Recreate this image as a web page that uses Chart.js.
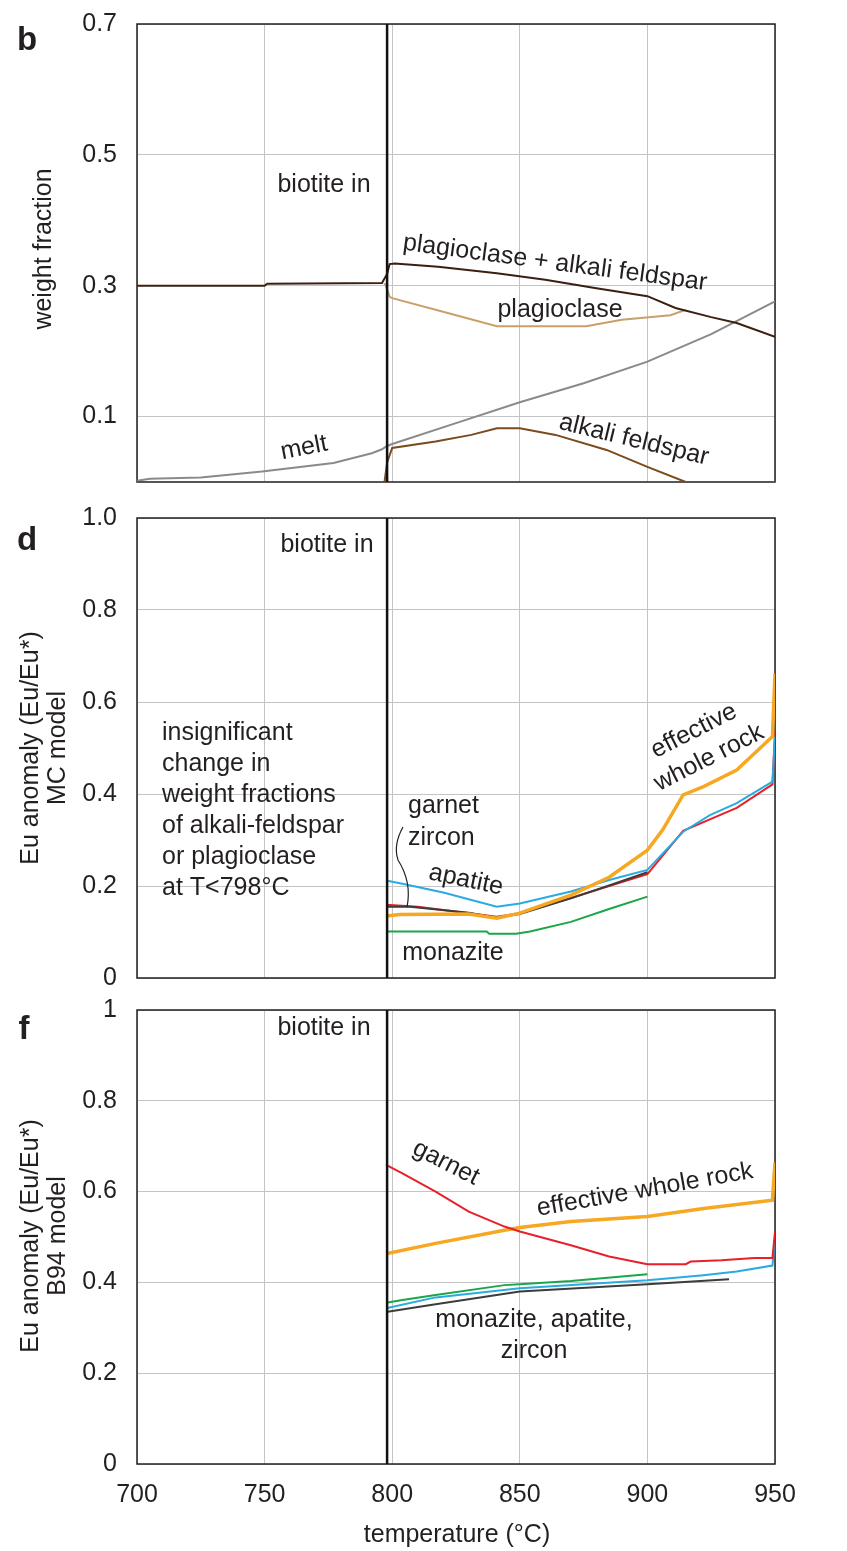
<!DOCTYPE html>
<html>
<head>
<meta charset="utf-8">
<script src="https://cdn.jsdelivr.net/npm/chart.js@4.4.1/dist/chart.umd.min.js"></script>
<style>
    body { margin: 0; background: #fff; }
    #wrap { position: relative; width: 847px; height: 1551px; }
    canvas { position: absolute; left: 0; }
</style>
</head>
<body>
<div id="wrap">
    <canvas id="chartB" width="847" height="500" style="top:0px"></canvas>
    <canvas id="chartD" width="847" height="490" style="top:500px"></canvas>
    <canvas id="chartF" width="847" height="561" style="top:990px"></canvas>
</div>
<script>
// temperature axis
const xTicks = [700, 750, 800, 850, 900, 950];
const biotiteIn = 798;

// panel b - weight fractions
const bTicks = [0.1, 0.3, 0.5, 0.7];
const bMeltT = [700, 705, 725, 749, 777, 792, 796, 798, 800, 825, 850, 875, 900, 925, 950];
const bMelt = [0.002, 0.005, 0.007, 0.016, 0.029, 0.044, 0.050, 0.055, 0.058, 0.090, 0.122, 0.151, 0.184, 0.226, 0.276];
const bPlagAlkT = [700, 750, 751, 796, 798, 799, 801, 818, 841, 860, 880, 900, 911, 925, 935, 950];
const bPlagAlk = [0.300, 0.300, 0.303, 0.304, 0.318, 0.333, 0.334, 0.329, 0.319, 0.309, 0.296, 0.284, 0.266, 0.252, 0.243, 0.222];
const bPlagT = [797, 798, 799, 800, 821, 841, 876, 890, 909, 915];
const bPlag = [0.304, 0.295, 0.283, 0.281, 0.259, 0.238, 0.238, 0.248, 0.255, 0.263];
const bAlkT = [700, 797, 798, 800, 817, 831, 841, 850, 864, 884, 900, 915, 950];
const bAlk = [0, 0, 0.030, 0.052, 0.062, 0.072, 0.082, 0.082, 0.072, 0.049, 0.023, 0, 0];

// panel d - Eu anomaly, MC model
const dTicks = [0, 0.2, 0.4, 0.6, 0.8, 1.0];
const dApatiteT = [797.6, 804, 820, 841, 850, 870, 885, 900, 914, 924.5, 935, 949, 950];
const dApatite = [0.212, 0.205, 0.186, 0.155, 0.162, 0.188, 0.213, 0.235, 0.318, 0.354, 0.380, 0.427, 0.525];
const dGarnetT = [797.6, 810, 841, 850, 870, 885, 900, 914, 935, 949, 950];
const dGarnet = [0.159, 0.155, 0.133, 0.141, 0.174, 0.200, 0.226, 0.320, 0.370, 0.421, 0.535];
const dZirconT = [797.6, 807, 830, 841, 850, 870, 885, 900];
const dZircon = [0.155, 0.155, 0.142, 0.131, 0.139, 0.173, 0.201, 0.230];
const dRockT = [797.6, 803, 830, 841, 850, 870, 885, 900, 906, 914, 922, 935, 949, 950];
const dRock = [0.135, 0.138, 0.139, 0.130, 0.141, 0.180, 0.219, 0.278, 0.322, 0.398, 0.416, 0.452, 0.525, 0.662];
const dMonaziteT = [797.6, 837, 838, 848.5, 854, 870, 885, 900];
const dMonazite = [0.101, 0.101, 0.096, 0.096, 0.101, 0.122, 0.150, 0.177];

// panel f - Eu anomaly, B94 model
const fTicks = [0, 0.2, 0.4, 0.6, 0.8, 1];
const fGarnetT = [797.6, 804, 817, 830, 844, 850, 870, 885, 900, 915, 917, 929, 942, 949, 950];
const fGarnet = [0.659, 0.640, 0.600, 0.556, 0.523, 0.512, 0.482, 0.457, 0.440, 0.440, 0.446, 0.449, 0.454, 0.454, 0.512];
const fRockT = [797.6, 817, 844, 850, 870, 900, 922, 949, 950];
const fRock = [0.463, 0.486, 0.515, 0.521, 0.534, 0.545, 0.563, 0.581, 0.664];
const fMonaziteT = [797.6, 804, 817, 844, 850, 870, 900];
const fMonazite = [0.355, 0.361, 0.372, 0.394, 0.396, 0.403, 0.418];
const fApatiteT = [797.6, 817, 850, 900, 922, 935, 949, 950];
const fApatite = [0.343, 0.367, 0.387, 0.405, 0.416, 0.424, 0.437, 0.500];
const fZirconT = [797.6, 817, 850, 900, 932];
const fZircon = [0.335, 0.352, 0.380, 0.396, 0.407];

const FONT = '"Liberation Sans", Arial, Helvetica, sans-serif';
const INK = '#231f20';
const GRID = '#c4c4c4';

function pts(t, v) {
    return t.map((x, i) => ({ x: x, y: v[i] }));
}

function series(t, v, color, width) {
    return { data: pts(t, v), borderColor: color, borderWidth: width || 2, pointRadius: 0, fill: false, tension: 0 };
}

function vline(ymin, ymax) {
    return { data: [{ x: biotiteIn, y: ymin }, { x: biotiteIn, y: ymax }], borderColor: '#111', borderWidth: 2.5, pointRadius: 0 };
}

function txt(ctx, s, x, y, opt) {
    opt = opt || {};
    ctx.save();
    ctx.font = (opt.bold ? 'bold ' : '') + (opt.size || 25) + 'px ' + FONT;
    ctx.fillStyle = INK;
    ctx.textAlign = opt.align || 'center';
    ctx.textBaseline = 'middle';
    ctx.translate(x, y);
    if (opt.rot) ctx.rotate(opt.rot * Math.PI / 180);
    ctx.fillText(s, 0, 0);
    ctx.restore();
}

// frame round the plot area, under the lines
const framePlugin = {
    id: 'frame',
    beforeDatasetsDraw(chart) {
        const a = chart.chartArea, ctx = chart.ctx;
        ctx.save();
        ctx.strokeStyle = INK;
        ctx.lineWidth = 1.5;
        ctx.strokeRect(a.left, a.top, a.right - a.left, a.bottom - a.top);
        ctx.restore();
    }
};

function makePanel(id, cfg) {
    const showX = !!cfg.showX;
    return new Chart(document.getElementById(id), {
        type: 'line',
        data: { datasets: cfg.datasets },
        options: {
            responsive: false,
            animation: false,
            devicePixelRatio: 1,
            layout: { padding: { left: 0, right: 72, top: cfg.top, bottom: cfg.bottom } },
            plugins: { legend: { display: false }, tooltip: { enabled: false } },
            scales: {
                x: {
                    type: 'linear', min: 700, max: 950,
                    afterBuildTicks: s => { s.ticks = xTicks.map(v => ({ value: v })); },
                    afterFit: s => { s.height = cfg.xHeight; s.paddingLeft = 0; s.paddingRight = 0; },
                    grid: { color: GRID, lineWidth: 1, drawTicks: false },
                    border: { display: false },
                    ticks: { display: showX, padding: 16, color: INK, font: { family: FONT, size: 25 } }
                },
                y: {
                    min: cfg.ymin, max: cfg.ymax,
                    afterBuildTicks: s => { s.ticks = cfg.yTicks.map(v => ({ value: v })); },
                    afterFit: s => { s.width = 137; s.paddingTop = 0; s.paddingBottom = 0; },
                    grid: { color: GRID, lineWidth: 1, drawTicks: false },
                    border: { display: false },
                    ticks: { padding: 20, color: INK, font: { family: FONT, size: 25 }, callback: cfg.yLabel }
                }
            }
        },
        plugins: [framePlugin, { id: 'notes', afterDraw: cfg.notes }]
    });
}

// panel b
makePanel('chartB', {
    top: 24, bottom: 18, xHeight: 0, ymin: 0, ymax: 0.7, yTicks: bTicks,
    yLabel: v => v.toFixed(1),
    datasets: [
        vline(0, 0.7),
        series(bPlagAlkT, bPlagAlk, '#3b1f0f', 2),
        series(bPlagT, bPlag, '#c9a06c', 2),
        series(bAlkT, bAlk, '#7b4b1e', 2),
        series(bMeltT, bMelt, '#8a8a8a', 2)
    ],
    notes: chart => {
        const ctx = chart.ctx;
        txt(ctx, 'b', 27, 41, { bold: true, size: 33 });
        txt(ctx, 'weight fraction', 44, 249, { rot: -90 });
        txt(ctx, 'biotite in', 324, 185);
        txt(ctx, 'plagioclase + alkali feldspar', 555, 263, { rot: 7.6 });
        txt(ctx, 'plagioclase', 560, 310);
        txt(ctx, 'melt', 304, 448, { rot: -11 });
        txt(ctx, 'alkali feldspar', 634, 440, { rot: 13.7 });
    }
});

// panel d
makePanel('chartD', {
    top: 18, bottom: 12, xHeight: 0, ymin: 0, ymax: 1, yTicks: dTicks,
    yLabel: v => (v === 0 ? '0' : v.toFixed(1)),
    datasets: [
        vline(0, 1),
        series(dRockT, dRock, '#f7a823', 3.5),
        series(dZirconT, dZircon, '#3c3c3c', 2),
        series(dApatiteT, dApatite, '#29abe2', 2),
        series(dGarnetT, dGarnet, '#e8202a', 2),
        series(dMonaziteT, dMonazite, '#1aa64a', 2)
    ],
    notes: chart => {
        const ctx = chart.ctx;
        txt(ctx, 'd', 27, 41, { bold: true, size: 33 });
        txt(ctx, 'Eu anomaly (Eu/Eu*)', 31, 248, { rot: -90 });
        txt(ctx, 'MC model', 58, 248, { rot: -90 });
        txt(ctx, 'biotite in', 327, 45);
        const lines = ['insignificant', 'change in', 'weight fractions', 'of alkali-feldspar', 'or plagioclase', 'at T<798\u00b0C'];
        lines.forEach((s, i) => txt(ctx, s, 162, 233 + i * 31, { align: 'left' }));
        txt(ctx, 'garnet', 408, 306, { align: 'left' });
        txt(ctx, 'zircon', 408, 338, { align: 'left' });
        txt(ctx, 'apatite', 466, 380, { rot: 12 });
        txt(ctx, 'monazite', 453, 453);
        txt(ctx, 'effective', 694, 231, { rot: -27 });
        txt(ctx, 'whole rock', 709, 258, { rot: -27 });
        // leader line from the garnet / zircon label
        ctx.save();
        ctx.strokeStyle = INK;
        ctx.lineWidth = 1.2;
        ctx.beginPath();
        ctx.moveTo(403, 327);
        ctx.quadraticCurveTo(393, 345, 398, 360);
        ctx.quadraticCurveTo(412, 382, 407, 407);
        ctx.stroke();
        ctx.restore();
    }
});

// panel f
makePanel('chartF', {
    showX: true, top: 20, bottom: 0, xHeight: 87, ymin: 0, ymax: 1, yTicks: fTicks,
    yLabel: v => (v === 0 || v === 1 ? String(v) : v.toFixed(1)),
    datasets: [
        vline(0, 1),
        series(fGarnetT, fGarnet, '#e8202a', 2),
        series(fRockT, fRock, '#f7a823', 3.5),
        series(fZirconT, fZircon, '#3c3c3c', 2),
        series(fApatiteT, fApatite, '#29abe2', 2),
        series(fMonaziteT, fMonazite, '#1aa64a', 2)
    ],
    notes: chart => {
        const ctx = chart.ctx;
        txt(ctx, 'f', 24, 40, { bold: true, size: 33 });
        txt(ctx, 'Eu anomaly (Eu/Eu*)', 31, 246, { rot: -90 });
        txt(ctx, 'B94 model', 58, 246, { rot: -90 });
        txt(ctx, 'biotite in', 324, 38);
        txt(ctx, 'garnet', 446, 173, { rot: 27 });
        txt(ctx, 'effective whole rock', 645, 200, { rot: -10 });
        txt(ctx, 'monazite, apatite,', 534, 330);
        txt(ctx, 'zircon', 534, 361);
        txt(ctx, 'temperature (\u00b0C)', 457, 545);
    }
});
</script>
</body>
</html>
